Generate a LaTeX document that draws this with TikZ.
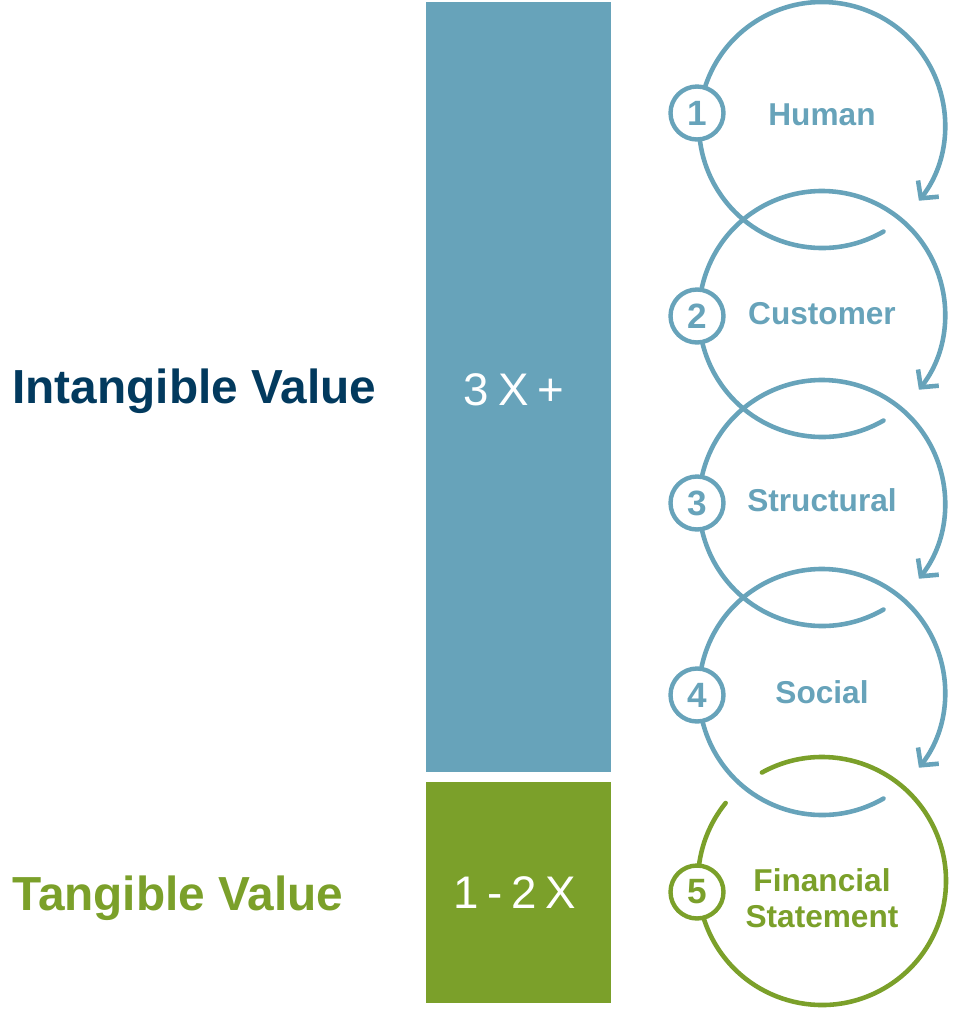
\documentclass[tikz,border=0pt]{standalone}
\usepackage{fontspec}
\setmainfont{Liberation Sans}
\usetikzlibrary{arrows.meta}

\definecolor{azul}{HTML}{67A3BA}
\definecolor{verde}{HTML}{7BA02A}
\definecolor{marino}{HTML}{023A5E}

\tikzset{
  anillo/.style={line width=2.6pt, line cap=round},
  numero/.style={circle, draw=#1, text=#1, fill=white, line width=2.5pt,
    minimum size=1.06cm, inner sep=0pt, font=\fontsize{20}{22}\selectfont\bfseries},
  etiqueta/.style={font=\fontsize{18}{20.5}\selectfont\bfseries, align=center, inner sep=0pt},
  lateral/.style={font=\fontsize{27.2}{31}\selectfont\bfseries, anchor=base west, inner sep=0pt},
  barra/.style={text=white, font=\fontsize{26}{30}\selectfont, anchor=base, inner sep=0pt}
}

\begin{document}
\begin{tikzpicture}[x=0.02cm, y=-0.02cm]
  \useasboundingbox (0,0) rectangle (954,1009);

  % Barras
  \fill[azul] (426,2) rectangle (611,772);
  \fill[verde] (426,782) rectangle (611,1003);
  \node[barra] (tres) at (514,405) {3\hspace{5pt}X\hspace{5pt}+};
  \node[barra] (uno) at (515,908) {1\hspace{5pt}-\hspace{5pt}2\hspace{5pt}X};

  % Textos laterales
  \node[lateral, text=marino] (intang) at (12,403) {Intangible Value};
  \node[lateral, text=verde] (tang) at (12,910) {Tangible Value};

  % Anillos azules con flecha
  \foreach \cy/\n in {125/1, 314/2, 503/3, 692/4}{
    \coordinate (c\n) at (822,\cy);
    \draw[anillo, azul, -{Straight Barb[length=7pt,width=15pt]}]
      (c\n) ++(60:123) arc[start angle=60, end angle=398, radius=123];
  }

  % Anillo verde
  \coordinate (c5) at (822,881);
  \draw[anillo, verde] (c5) ++(-119:124) arc[start angle=-119, end angle=219, radius=124];

  % Numeros
  \foreach \ny/\n in {113/1, 316/2, 503/3, 695/4}{
    \node[numero=azul] (n\n) at (697,\ny) {\n};
  }
  \node[numero=verde] (n5) at (697,892) {5};

  % Etiquetas
  \node[etiqueta, text=azul, anchor=base] (humano) at (822,125) {Human};
  \node[etiqueta, text=azul, anchor=base] (cliente) at (822,324.5) {Customer};
  \node[etiqueta, text=azul, anchor=base] (estruct) at (822,511.5) {Structural};
  \node[etiqueta, text=azul, anchor=base] (social) at (822,703.5) {Social};
  \node[etiqueta, text=verde] (finan) at (822,898) {Financial\\Statement};
\end{tikzpicture}
\end{document}
